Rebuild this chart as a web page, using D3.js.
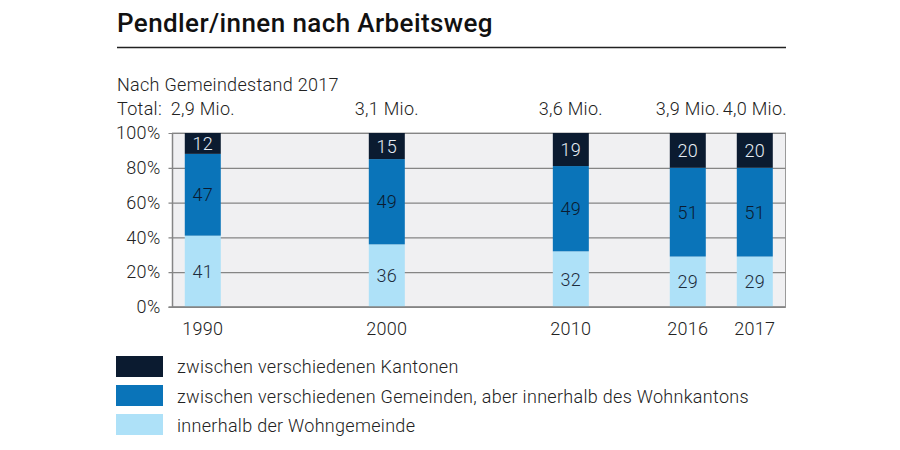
<!DOCTYPE html>
<html>
<head>
<meta charset="utf-8">
<script src="https://cdn.jsdelivr.net/npm/d3@7"></script>
<style>
  html, body { margin: 0; padding: 0; background: #ffffff; }
  svg { display: block; font-family: Roboto, "Noto Sans", sans-serif; }
</style>
</head>
<body>
<svg id="chart" width="900" height="450"></svg>
<script>
// ---- data ----
const years = [1990, 2000, 2010, 2016, 2017];
const totals = ["2,9 Mio.", "3,1 Mio.", "3,6 Mio.", "3,9 Mio.", "4,0 Mio."];
const innerhalbWohngemeinde = [41, 36, 32, 29, 29];
const zwischenGemeinden = [47, 49, 49, 51, 51];
const zwischenKantonen = [12, 15, 19, 20, 20];
const seriesNames = [
  "innerhalb der Wohngemeinde",
  "zwischen verschiedenen Gemeinden, aber innerhalb des Wohnkantons",
  "zwischen verschiedenen Kantonen"
];
const yTicks = [0, 20, 40, 60, 80, 100];

const colors = ["#aee1f8", "#0a74b9", "#0b1b30"];
const textColors = ["#1d2c3c", "#0b1b30", "#e6edf5"];

const FS = 18, LS = "0.3px";

const svg = d3.select("#chart");
const plot = { left: 172.5, right: 785.5, top: 133, bottom: 307 };
const W = plot.right - plot.left;

// piecewise x positions (reference spaces bars unevenly)
const x = d3.scaleLinear()
  .domain(years)
  .range([0.0494, 0.3496, 0.6498, 0.8406, 0.9499].map(f => plot.left + f * W));
const y = d3.scaleLinear().domain([0, 100]).range([plot.bottom, plot.top]);
const barW = 36;

function bodyText(sel) {
  return sel.attr("font-size", FS).attr("font-weight", 300)
    .attr("letter-spacing", LS).attr("fill", "#222");
}

// Title
svg.append("text").attr("x", 117).attr("y", 32)
  .attr("font-size", 26).attr("font-weight", 500).attr("letter-spacing", "0.4px").attr("fill", "#111")
  .text("Pendler/innen nach Arbeitsweg");
svg.append("line").attr("x1", 117).attr("x2", 786).attr("y1", 47.5).attr("y2", 47.5)
  .attr("stroke", "#222").attr("stroke-width", 1.5);

bodyText(svg.append("text").attr("x", 117).attr("y", 91)).text("Nach Gemeindestand 2017");
bodyText(svg.append("text").attr("x", 117).attr("y", 114.5)).text("Total:");

// totals
bodyText(svg.append("g").selectAll("text").data(years).join("text")
  .attr("x", d => x(d)).attr("y", 114.5).attr("text-anchor", "middle"))
  .text((d, i) => totals[i]);

// plot background
svg.append("rect").attr("x", plot.left).attr("y", plot.top)
  .attr("width", W).attr("height", plot.bottom - plot.top)
  .attr("fill", "#f0f0f2").attr("stroke", "#9a9a9a").attr("stroke-width", 1);

// gridlines + ticks
const yAxis = d3.axisLeft(y).tickValues(yTicks).tickFormat(d => d + "%")
  .tickSize(-(W + 4)).tickPadding(8);
const gy = svg.append("g").attr("transform", `translate(${plot.left - 4},0)`).call(yAxis);
gy.select(".domain").remove();
gy.selectAll(".tick line").attr("stroke", "#858585").attr("stroke-width", 1.2);
bodyText(gy.selectAll(".tick text")).attr("font-family", "Roboto, sans-serif");

// stacked bars
const rows = years.map((yr, i) => ({
  year: yr,
  s0: innerhalbWohngemeinde[i],
  s1: zwischenGemeinden[i],
  s2: zwischenKantonen[i]
}));
const stack = d3.stack().keys(["s0", "s1", "s2"])(rows);

const gBars = svg.append("g");
stack.forEach((layer, k) => {
  gBars.append("g").selectAll("rect").data(layer).join("rect")
    .attr("x", d => x(d.data.year) - barW / 2)
    .attr("width", barW)
    .attr("y", d => y(d[1]))
    .attr("height", d => y(d[0]) - y(d[1]))
    .attr("fill", colors[k]);
  gBars.append("g").selectAll("text").data(layer).join("text")
    .attr("x", d => x(d.data.year))
    .attr("y", d => y((d[0] + d[1]) / 2))
    .attr("dy", "0.36em")
    .attr("text-anchor", "middle")
    .attr("font-size", FS).attr("font-weight", 300).attr("letter-spacing", LS)
    .attr("fill", textColors[k])
    .text(d => d[1] - d[0]);
});

// axes lines (left & bottom)
svg.append("line").attr("x1", plot.left).attr("x2", plot.left)
  .attr("y1", plot.top).attr("y2", plot.bottom)
  .attr("stroke", "#858585").attr("stroke-width", 1.5);
svg.append("line").attr("x1", plot.left - 4).attr("x2", plot.right)
  .attr("y1", plot.bottom).attr("y2", plot.bottom)
  .attr("stroke", "#858585").attr("stroke-width", 1.5);

// x labels
bodyText(svg.append("g").selectAll("text").data(years).join("text")
  .attr("x", d => x(d)).attr("y", 335).attr("text-anchor", "middle"))
  .text(d => d);

// legend (top-down: Kantonen, Gemeinden, Wohngemeinde)
const legendOrder = [2, 1, 0];
const gl = svg.append("g");
legendOrder.forEach((k, j) => {
  gl.append("rect").attr("x", 116).attr("y", 356 + j * 29)
    .attr("width", 47).attr("height", 21).attr("fill", colors[k]);
  bodyText(gl.append("text").attr("x", 177).attr("y", 373 + j * 29.5))
    .text(seriesNames[k]);
});
</script>
</body>
</html>
